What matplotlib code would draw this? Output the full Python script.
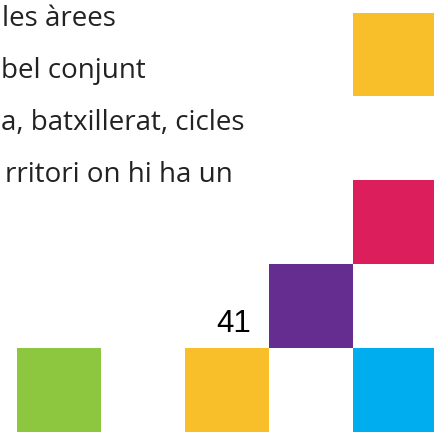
import matplotlib
matplotlib.use("Agg")
import matplotlib.pyplot as plt
from matplotlib.patches import Rectangle

# tile grid: column / row index (row 0 = bottom) and fill colour
square_cols = [0, 2, 3, 4, 4, 4]
square_rows = [0, 0, 1, 0, 2, 4]
square_colors = ["#8DC63F", "#F8BF2A", "#662D91", "#00AEEF", "#DC1F5C", "#F8BF2A"]

text_lines = ["les àrees", "bel conjunt", "a, batxillerat, cicles", "rritori on hi ha un"]
page_number = "41"

W, H = 434, 435
CELL = 83.9
X0, Y0 = 17, 433  # pixel position of the lower-left corner of cell (0, 0)

fig = plt.figure(figsize=(W / 100, H / 100), dpi=100, facecolor="white")
ax = fig.add_axes([0, 0, 1, 1])
ax.set_xlim(-X0 / CELL, (W - X0) / CELL)
ax.set_ylim(-(H - Y0) / CELL, Y0 / CELL)
ax.axis("off")

for c, r, col in zip(square_cols, square_rows, square_colors):
    ax.add_patch(Rectangle((c, r), 1, 1, facecolor=col, edgecolor="none"))

# body text (the crop cuts the page on the left)
left_px = [2, 1, 1, 5]
base_px = [26, 78, 130, 182]
for s, xl, yb in zip(text_lines, left_px, base_px):
    fig.text(xl / W, 1 - yb / H, s, ha="left", va="baseline",
             fontsize=20, family="Open Sans", color="#222222")

fig.text(234 / W, 1 - 332 / H, page_number, ha="center", va="baseline",
         fontsize=22.5, family="Liberation Sans", color="black")

fig.savefig("out.png", dpi=100, facecolor="white")
